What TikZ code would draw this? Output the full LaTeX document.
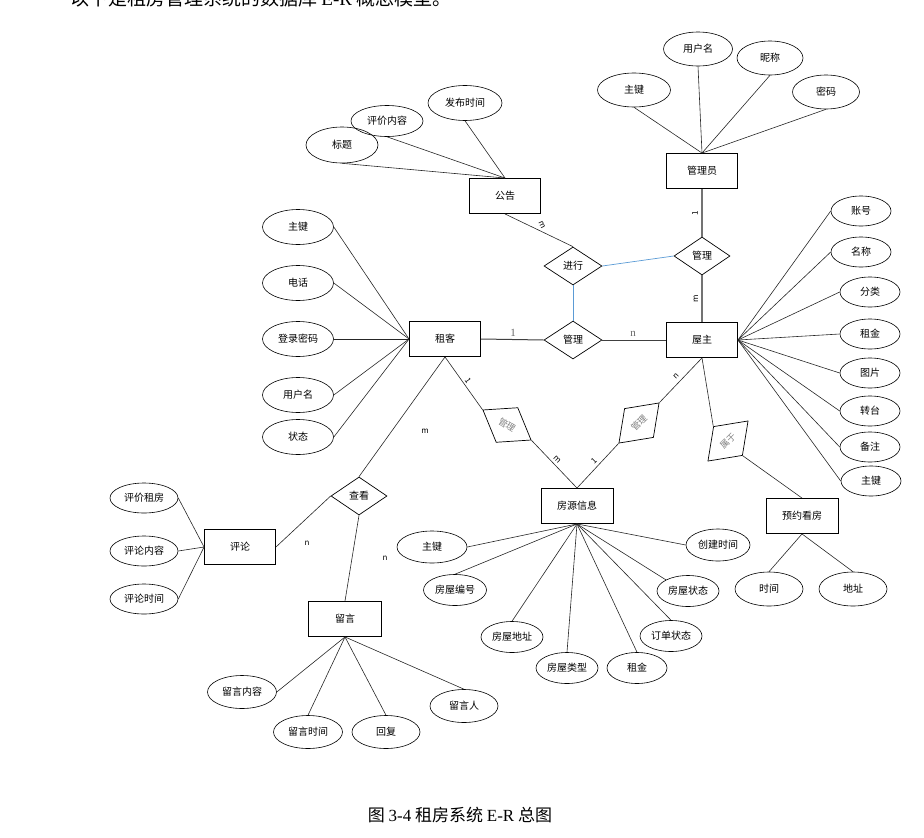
\documentclass[tikz,border=0pt]{standalone}
\usepackage{fontspec}
\setmainfont{Liberation Serif}
\newfontfamily\cjk{Noto Sans CJK SC}
\usetikzlibrary{shapes.geometric}
\begin{document}
\begin{tikzpicture}[x=1pt,y=-1pt,
  every node/.style={font=\cjk\fontsize{10}{12}\selectfont, inner sep=0pt},
  ent/.style={draw=black, line width=0.9pt, minimum width=71pt, minimum height=35pt},
  attr/.style={ellipse, draw=black, line width=0.6pt, minimum width=70pt, minimum height=34pt},
  rel/.style={diamond, draw=black, line width=0.7pt, minimum width=58pt, minimum height=38pt},
  rrel/.style={rel, text=black!50, font=\cjk\fontsize{9}{10}\selectfont, minimum width=57pt, minimum height=41pt},
  conn/.style={draw=black!85, line width=0.6pt},
  gconn/.style={draw=black!55, line width=1.3pt},
  mconn/.style={draw=black!75, line width=1pt},
  bconn/.style={draw={rgb,255:red,91;green,155;blue,213}, line width=0.7pt},
  card/.style={fill=white, inner sep=0.8pt, font=\cjk\fontsize{8}{9}\selectfont},
  scard/.style={fill=white, inner sep=0.6pt, text=black!60, font=\rmfamily\fontsize{11}{12}\selectfont},
  pcard/.style={font=\cjk\fontsize{8}{9}\selectfont},
]
\useasboundingbox (0,0) rectangle (924,838);
\clip (0,0) rectangle (924,838);

% clipped line of text above the figure
\node[anchor=base west, font=\cjk\fontsize{19}{20}\selectfont] (toptext) at (70,5)
  {以下是租房管理系统的数据库 {\rmfamily E-R} 概念模型。};

% entities
\node[ent] (gg) at (505,196) {公告};
\node[ent] (gly) at (702,171) {管理员};
\node[ent] (zk) at (445,339) {租客};
\node[ent] (wz) at (702,340) {屋主};
\node[ent, minimum width=72pt] (fy) at (577,506) {房源信息};
\node[ent] (pl) at (240,547) {评论};
\node[ent, minimum width=73pt] (ly) at (345,619) {留言};
\node[ent, minimum width=72pt] (yy) at (802,516) {预约看房};

% relationships
\node[rel] (jx) at (573,266) {进行};
\node[rel, minimum width=56pt] (gl1) at (702,256) {管理};
\node[rel] (gl2) at (573,340) {管理};
\node[rel, minimum width=56pt] (ck) at (359,496) {查看};
\node[rrel, rotate=-32] (gl3) at (507,425) {管理};
\node[rrel, rotate=45] (gl4) at (639,423) {管理};
\node[rrel, rotate=45] (sy) at (728,441) {属于};

% attributes of 公告
\node[attr, minimum width=72pt, minimum height=36pt] (gg1) at (342,145) {标题};
\node[attr, minimum width=72pt, minimum height=31pt] (gg2) at (387,121) {评价内容};
\node[attr, minimum width=74pt, minimum height=35pt] (gg3) at (465,103) {发布时间};

% attributes of 管理员
\node[attr, minimum width=73pt] (gy1) at (634,90) {主键};
\node[attr, minimum width=69pt] (gy2) at (698,49) {用户名};
\node[attr, minimum width=66pt] (gy3) at (770,58) {昵称};
\node[attr, minimum width=67pt] (gy4) at (826,92) {密码};

% attributes of 租客
\node[attr, minimum width=71pt, minimum height=35pt] (zk1) at (298,227) {主键};
\node[attr, minimum width=71pt, minimum height=35pt] (zk2) at (298,283) {电话};
\node[attr, minimum width=71pt, minimum height=35pt] (zk3) at (298,339) {登录密码};
\node[attr, minimum width=71pt, minimum height=35pt] (zk4) at (298,395) {用户名};
\node[attr, minimum width=71pt, minimum height=35pt] (zk5) at (298,437) {状态};

% attributes of 屋主
\node[attr, minimum width=60pt, minimum height=30pt] (wz1) at (861,211) {账号};
\node[attr, minimum width=60pt, minimum height=30pt] (wz2) at (861,252) {名称};
\node[attr, minimum width=60pt, minimum height=30pt] (wz3) at (870,292) {分类};
\node[attr, minimum width=60pt, minimum height=30pt] (wz4) at (870,334) {租金};
\node[attr, minimum width=60pt, minimum height=30pt] (wz5) at (870,373) {图片};
\node[attr, minimum width=60pt, minimum height=30pt] (wz6) at (870,411) {转台};
\node[attr, minimum width=60pt, minimum height=30pt] (wz7) at (870,447) {备注};
\node[attr, minimum width=60pt, minimum height=30pt] (wz8) at (871,481) {主键};

% attributes of 房源信息
\node[attr, minimum width=70pt, minimum height=32pt] (fy1) at (432,547) {主键};
\node[attr, minimum width=63pt, minimum height=31pt] (fy2) at (455,590) {房屋编号};
\node[attr, minimum width=62pt, minimum height=31pt] (fy3) at (512,637) {房屋地址};
\node[attr, minimum width=62pt, minimum height=31pt] (fy4) at (567,668) {房屋类型};
\node[attr, minimum width=60pt, minimum height=31pt] (fy5) at (637,668) {租金};
\node[attr, minimum width=62pt, minimum height=31pt] (fy6) at (671,636) {订单状态};
\node[attr, minimum width=62pt, minimum height=31pt] (fy7) at (688,591) {房屋状态};
\node[attr, minimum width=64pt, minimum height=32pt] (fy8) at (718,545) {创建时间};

% attributes of 评论
\node[attr, minimum width=68pt, minimum height=30pt] (pl1) at (144,498) {评价租房};
\node[attr, minimum width=68pt, minimum height=30pt] (pl2) at (144,551) {评论内容};
\node[attr, minimum width=68pt, minimum height=30pt] (pl3) at (144,599) {评论时间};

% attributes of 留言
\node[attr, minimum width=69pt, minimum height=33pt] (ly1) at (242,692) {留言内容};
\node[attr, minimum width=69pt, minimum height=33pt] (ly2) at (308,732) {留言时间};
\node[attr, minimum width=68pt, minimum height=33pt] (ly3) at (386,732) {回复};
\node[attr, minimum width=68pt, minimum height=33pt] (ly4) at (464,706) {留言人};

% attributes of 预约看房
\node[attr, minimum width=68pt, minimum height=34pt] (yy1) at (769,589) {时间};
\node[attr, minimum width=68pt, minimum height=34pt] (yy2) at (853,589) {地址};

% attribute connectors
\foreach \a in {gg1,gg2,gg3} \draw[conn] (\a.south) -- (gg.north);
\foreach \a in {gy1,gy2,gy3,gy4} \draw[conn] (\a.south) -- (gly.north);
\foreach \a in {zk1,zk2,zk3,zk4,zk5} \draw[conn] (\a.east) -- (zk.west);
\foreach \a in {wz1,wz2,wz3,wz4,wz5,wz6,wz7,wz8} \draw[conn] (\a.west) -- (wz.east);
\draw[conn] (fy1.east) -- (fy.south);
\foreach \a in {fy2,fy3,fy4,fy5,fy6} \draw[conn] (\a.north) -- (fy.south);
\draw[conn] (fy7.north west) -- (fy.south);
\draw[conn] (fy8.west) -- (fy.south);
\foreach \a in {pl1,pl2,pl3} \draw[conn] (\a.east) -- (pl.west);
\draw[conn] (ly1.east) -- (ly.south);
\foreach \a in {ly2,ly3,ly4} \draw[conn] (\a.north) -- (ly.south);
\foreach \a in {yy1,yy2} \draw[conn] (\a.north) -- (yy.south);

% relationship connectors
\draw[conn] (gg.south) -- (jx.north);
\draw[bconn] (jx.east) -- (gl1.west);
\draw[bconn] (jx.south) -- (gl2.north);
\draw[gconn] (gly.south) -- (gl1.north);
\draw[gconn] (gl1.south) -- (wz.north);
\draw[mconn] (zk.east) -- (gl2.west);
\draw[mconn] (gl2.east) -- (wz.west);
\draw[conn] (zk.south) -- (ck.north);
\draw[conn] (ck.west) -- (pl.east);
\draw[conn] (ck.south) -- (ly.north);
\draw[conn] (zk.south) -- (gl3.west);
\draw[conn] (gl3.east) -- (fy.north);
\draw[conn] (wz.south) -- (gl4.east);
\draw[conn] (gl4.west) -- (fy.north);
\draw[conn] (wz.south) -- (sy.north);
\draw[conn] (sy.south) -- (yy.north);

% cardinalities
\node[card, rotate=-65] (c1) at (542,225) {m};
\node[card, rotate=90] (c2) at (695,213) {1};
\node[card, rotate=90] (c3) at (696,299) {m};
\node[scard] (c4) at (513,333) {1};
\node[scard] (c5) at (633,334) {n};
\node[card, rotate=-55] (c6) at (468,381) {1};
\node[card, rotate=-45] (c7) at (557,460) {m};
\node[card, rotate=45] (c8) at (594,461) {1};
\node[card, rotate=45] (c9) at (676,376) {n};
\node[pcard] (c10) at (425,431) {m};
\node[pcard] (c11) at (307,543) {n};
\node[pcard] (c12) at (385,558) {n};

% caption
\node[font=\cjk\fontsize{17}{20}\selectfont] (cap) at (460,815)
  {图 {\rmfamily 3-4} 租房系统 {\rmfamily E-R} 总图};
\end{tikzpicture}
\end{document}
